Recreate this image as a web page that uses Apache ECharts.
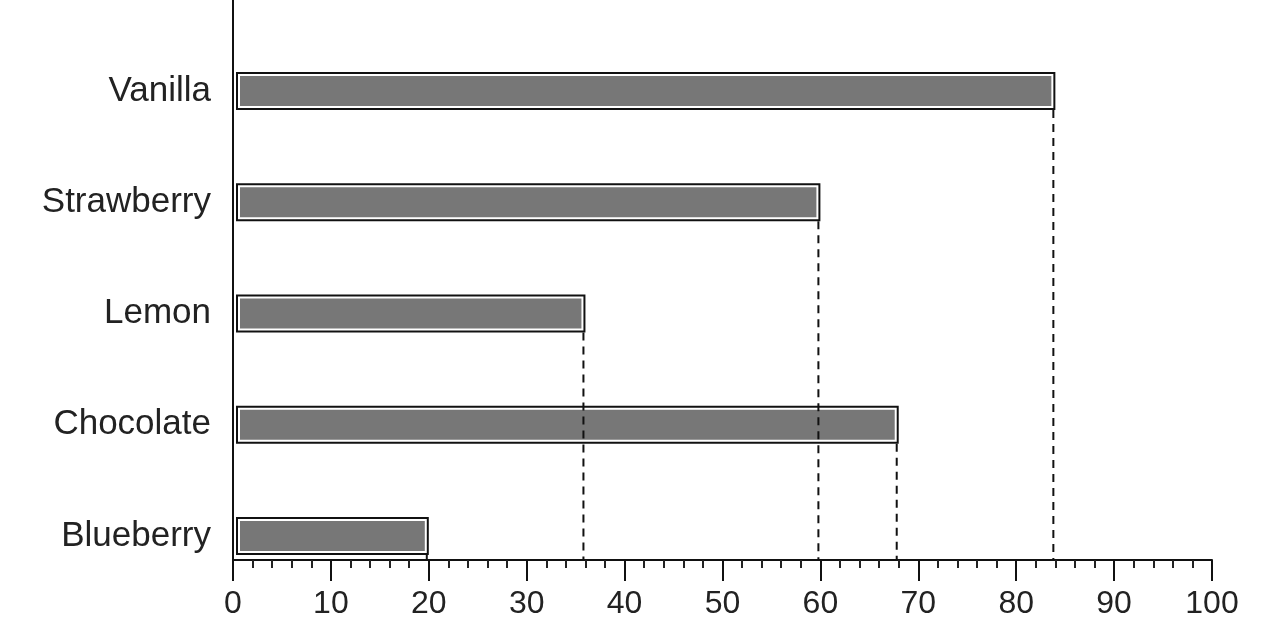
<!DOCTYPE html>
<html>
<head>
<meta charset="utf-8">
<script src="https://cdn.jsdelivr.net/npm/echarts@6/dist/echarts.min.js"></script>
<style>html,body{margin:0;padding:0;background:#fff}#c{width:1269px;height:633px}</style>
</head>
<body>
<div id="c"></div>
<script>
const categories = ['Blueberry', 'Chocolate', 'Lemon', 'Strawberry', 'Vanilla'];
const values = [20, 68, 36, 60, 84];
const xTicks = [0, 10, 20, 30, 40, 50, 60, 70, 80, 90, 100];

const yMin = -0.216, yMax = 4.818;
const barData = values.map((v, i) => [v, i]);
const chart = echarts.init(document.getElementById('c'));
const BAR_H = 38;
chart.setOption({
  animation: false,
  backgroundColor: '#fff',
  grid: { left: 233, right: 57, top: 0, bottom: 73, containLabel: false },
  xAxis: {
    type: 'value', min: xTicks[0], max: xTicks[xTicks.length - 1], interval: 10,
    axisLine: { show: true, onZero: false, lineStyle: { color: '#111', width: 2 } },
    axisTick: { show: true, length: 21, lineStyle: { color: '#111', width: 2 } },
    minorTick: { show: true, splitNumber: 5, length: 8, lineStyle: { color: '#222', width: 2 } },
    splitLine: { show: false },
    axisLabel: { fontSize: 32, color: '#222', margin: 28, fontFamily: 'Liberation Sans, Arial, sans-serif' }
  },
  yAxis: {
    type: 'value', min: yMin, max: yMax,
    axisLine: { show: true, onZero: false, lineStyle: { color: '#111', width: 2 } },
    axisTick: { show: false },
    splitLine: { show: false },
    axisLabel: {
      customValues: [0, 1, 2, 3, 4],
      formatter: v => categories[Math.round(v)],
      fontSize: 35, color: '#222', margin: 22,
      fontFamily: 'Liberation Sans, Arial, sans-serif'
    }
  },
  series: [
    {
      type: 'custom',
      data: barData,
      encode: { x: 0, y: 1 },
      renderItem: function (params, api) {
        const p0 = api.coord([0, api.value(1)]);
        const p1 = api.coord([api.value(0), api.value(1)]);
        const base = api.coord([0, yMin]);
        const yc = p1[1];
        return {
          type: 'group',
          children: [
            {
              type: 'line',
              shape: { x1: p1[0] - 2, y1: yc + BAR_H / 2, x2: p1[0] - 2, y2: base[1] },
              style: { stroke: '#111', lineWidth: 2, lineDash: [8, 6] }
            },
            {
              type: 'rect',
              shape: { x: p0[0] + 3, y: yc - BAR_H / 2, width: p1[0] - p0[0] - 3, height: BAR_H },
              style: { fill: '#111' }
            },
            {
              type: 'rect',
              shape: { x: p0[0] + 5, y: yc - BAR_H / 2 + 2, width: p1[0] - p0[0] - 7, height: BAR_H - 4 },
              style: { fill: '#fff' }
            },
            {
              type: 'rect',
              shape: { x: p0[0] + 7, y: yc - BAR_H / 2 + 4, width: p1[0] - p0[0] - 11, height: BAR_H - 8 },
              style: { fill: '#777777' }
            }
          ]
        };
      }
    }
  ]
});
</script>
</body>
</html>
